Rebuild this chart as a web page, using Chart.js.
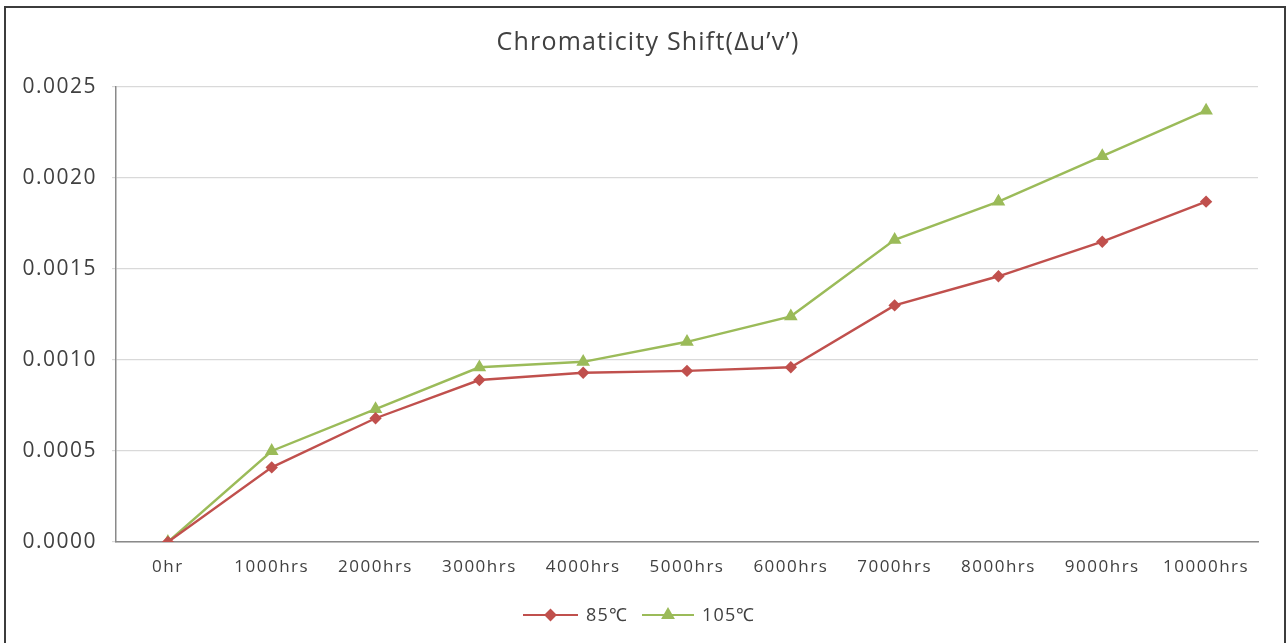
<!DOCTYPE html>
<html><head><meta charset="utf-8">
<script src="https://cdn.jsdelivr.net/npm/chart.js@4"></script>
<style>
html,body{margin:0;padding:0;background:#fff;}
#wrap{position:relative;width:1287px;height:643px;overflow:hidden;}
#frame{position:absolute;left:4px;top:6px;width:1282px;height:660px;border:2px solid #3c3c3c;box-sizing:border-box;pointer-events:none;}
canvas{position:absolute;left:0;top:0;}
</style></head>
<body><div id="wrap"><canvas id="c" width="1287" height="643"></canvas><div id="frame"></div></div>
<script>
const categories = ["0hr","1000hrs","2000hrs","3000hrs","4000hrs","5000hrs","6000hrs","7000hrs","8000hrs","9000hrs","10000hrs"];
const series85 = [0, 0.00041, 0.00068, 0.00089, 0.00093, 0.00094, 0.00096, 0.0013, 0.00146, 0.00165, 0.00187];
const series105 = [0, 0.0005, 0.00073, 0.00096, 0.00099, 0.0011, 0.00124, 0.00166, 0.00187, 0.00212, 0.00237];
const seriesNames = ["85\u2103", "105\u2103"];
const titleText = "Chromaticity Shift(\u0394u\u2019v\u2019)";
const yTicks = [0, 0.0005, 0.001, 0.0015, 0.002, 0.0025];

const RED = '#C0504D', GREEN = '#9BBB59', TXT = '#404040';
const FONT = "'Open Sans', sans-serif";

const spacingPlugin = {
  id: 'spacing',
  beforeDraw(chart) { chart.ctx.letterSpacing = '1.5px'; }
};

const overlayPlugin = {
  id: 'overlay',
  afterDraw(chart) {
    const ctx = chart.ctx;
    ctx.save();
    // title
    ctx.letterSpacing = '1.2px';
    ctx.font = "25px " + FONT;
    ctx.fillStyle = TXT;
    ctx.textAlign = 'center';
    ctx.textBaseline = 'middle';
    ctx.fillText(titleText, 648, 43);
    // legend
    ctx.letterSpacing = '1.2px';
    ctx.font = "18px " + FONT;
    const y = 615;
    const items = [
      {x: 523, len: 55, color: RED, style: 'rectRot', r: 5, name: seriesNames[0]},
      {x: 642, len: 52, color: GREEN, style: 'triangle', r: 6, name: seriesNames[1]}
    ];
    items.forEach(it => {
      ctx.strokeStyle = it.color; ctx.lineWidth = 2;
      ctx.beginPath(); ctx.moveTo(it.x, y); ctx.lineTo(it.x + it.len, y); ctx.stroke();
      ctx.fillStyle = it.color;
      Chart.helpers.drawPoint(ctx, {pointStyle: it.style, radius: it.r, borderWidth: 1}, it.x + it.len/2, y);
      ctx.fill();
      ctx.fillStyle = TXT;
      ctx.textAlign = 'left';
      ctx.fillText(it.name, it.x + it.len + 8, y + 1);
    });
    ctx.restore();
  }
};

new Chart(document.getElementById('c'), {
  type: 'line',
  data: {
    labels: categories,
    datasets: [
      {label: seriesNames[0], data: series85, borderColor: RED, backgroundColor: RED, borderWidth: 2.4,
       pointStyle: 'rectRot', pointRadius: 4.5, pointBorderColor: RED, pointBackgroundColor: RED, tension: 0},
      {label: seriesNames[1], data: series105, borderColor: GREEN, backgroundColor: GREEN, borderWidth: 2.4,
       pointStyle: 'triangle', pointRadius: 5.5, pointBorderColor: GREEN, pointBackgroundColor: GREEN, tension: 0}
    ]
  },
  options: {
    responsive: false,
    animation: false,
    layout: {padding: {left: 10, right: 29, top: 87, bottom: 0}},
    plugins: {
      legend: {display: false},
      tooltip: {enabled: false},
      title: {display: false}
    },
    scales: {
      x: {
        type: 'category', offset: true,
        grid: {display: false, drawTicks: false},
        border: {display: true, color: '#8a8a8a', width: 1.5},
        ticks: {color: TXT, font: {family: FONT, size: 17}, padding: 15, maxRotation: 0, autoSkip: false},
        afterFit(s) { s.height = 101; }
      },
      y: {
        min: 0, max: 0.0025,
        afterBuildTicks(s) { s.ticks = yTicks.map(v => ({value: v})); },
        ticks: {color: TXT, font: {family: FONT, size: 21}, padding: 15,
                callback: v => Number(v).toFixed(4)},
        grid: {color: '#d9d9d9', lineWidth: 1.2, tickLength: 4},
        border: {display: true, color: '#8a8a8a', width: 1.5},
        afterFit(s) { s.width = 106; }
      }
    }
  },
  plugins: [spacingPlugin, overlayPlugin]
});
</script>
</body></html>
